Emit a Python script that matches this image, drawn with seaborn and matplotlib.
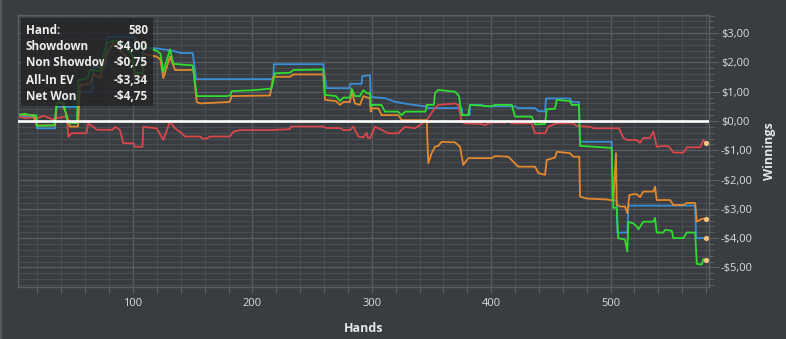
import numpy as np
import pandas as pd
import matplotlib
matplotlib.use("Agg")
import matplotlib.pyplot as plt
import seaborn as sns
from matplotlib.ticker import MultipleLocator, FuncFormatter
from matplotlib.patches import Rectangle
from matplotlib.lines import Line2D

# ---------------- data ----------------
showdown_hands = [4, 19, 19.5, 34.7, 36, 54, 54.5, 66, 66.5, 77.5, 78, 101.5, 102, 115, 125, 133, 140, 150,
                  153, 217.5, 218, 259.4, 262, 281.7, 282, 291.5, 292, 298.5, 299.1, 311, 319, 330, 346, 347.3,
                  375.3, 376, 382, 382.2, 392, 394.8, 420, 422.7, 436.7, 439.5, 445.1, 445.9, 466, 467.4, 473.5,
                  474.4, 500.9, 501.5, 505.1, 505.6, 514, 514.9, 570.8, 571.6, 580]
showdown_vals = [0.15, 0.15, -0.25, -0.25, 0.48, 0.48, 1.0, 1.0, 1.85, 1.85, 2.87, 2.87, 2.5, 2.5, 2.45, 2.4, 2.32, 2.32,
                 1.43, 1.43, 1.94, 1.94, 1.12, 1.12, 1.27, 1.27, 1.53, 1.57, 0.82, 0.78, 0.66, 0.58, 0.49, 0.44,
                 0.44, 0.2, 0.2, 0.55, 0.55, 0.5, 0.5, 0.44, 0.44, 0.34, 0.32, 0.77, 0.77, 0.65, 0.65,
                 -0.71, -0.71, -2.71, -2.71, -3.81, -3.81, -2.89, -2.89, -4.0, -4.0]

netwon_hands = [4, 10, 14, 19, 19.5, 34, 36, 38, 42, 44.5, 46, 53, 54.2, 62, 64, 72, 78, 85, 92, 100, 101.7, 108,
                108.6, 120, 123, 125.4, 131, 133.8, 150, 153.5, 178, 181.5, 182.6, 200, 214, 216.2, 218.9, 231.5,
                234.3, 259.4, 260.8, 270, 273.4, 276.2, 281.7, 283.2, 285.9, 290, 292.9, 296, 298.5, 299.1, 300,
                308, 311, 322, 325, 327.8, 345, 346, 352, 352.9, 355.7, 369.7, 373, 375.3, 380.8, 382.2, 400,
                403.2, 417.2, 419.9, 433.9, 436.7, 445.1, 446.5, 453.4, 454.9, 466, 467.4, 473.5, 474.4, 500.9,
                502.3, 505.1, 506.4, 512, 514, 514.9, 519, 522, 523.2, 527.4, 535.8, 537.2, 538.6, 544.2, 545.6,
                551.2, 552.6, 561, 563.8, 570.8, 572.2, 576.4, 577.8, 580]
netwon_vals = [0.2, 0.25, 0.18, 0.2, -0.17, -0.15, 0.55, 0.66, 0.62, 0.1, -0.07, -0.07, 1.4, 1.45, 1.75, 1.7, 2.66,
               2.76, 2.62, 2.2, 1.64, 1.64, 2.53, 2.4, 2.3, 1.68, 2.45, 1.95, 1.9, 0.85, 0.85, 0.87, 1.02, 1.05,
               1.1, 1.12, 1.63, 1.65, 1.74, 1.76, 0.89, 0.85, 0.68, 0.8, 0.8, 1.1, 0.85, 0.85, 1.05, 0.95, 0.95,
               0.5, 0.55, 0.55, 0.32, 0.32, 0.2, 0.32, 0.32, 0.55, 0.55, 0.95, 1.06, 1.0, 0.85, 0.2, 0.2, 0.55,
               0.5, 0.55, 0.55, 0.15, 0.15, -0.12, -0.1, 0.4, 0.42, 0.72, 0.68, 0.55, 0.55, -0.85, -0.92, -2.97,
               -2.95, -4.0, -4.05, -4.46, -3.44, -3.5, -3.6, -3.7, -3.44, -3.44, -3.31, -3.81, -3.81, -3.72,
               -3.75, -4.0, -4.0, -3.81, -3.81, -4.88, -4.9, -4.71, -4.75]

nonsd_hands = [4, 10, 16.5, 19, 25, 33, 36, 40, 44.5, 45.8, 48.6, 61, 62.6, 66.8, 69.6, 83, 84.9, 89, 91.9, 100.3,
               101.7, 108, 108.6, 119.8, 125.4, 131, 135.2, 140.8, 143.6, 156, 158.9, 161.7, 164.5, 181, 184,
               189.6, 214, 231.5, 232, 259.4, 262, 273.4, 276.2, 281.7, 284.6, 288.7, 292.9, 295.7, 296.5, 298.5,
               302.7, 305.5, 308.3, 313.8, 322.2, 325, 327.8, 336.2, 340.4, 346, 352.9, 355.7, 369.7, 372.5,
               375.3, 378, 392, 394.8, 400.3, 411.6, 414.4, 417.2, 433.9, 436.7, 445.1, 447.8, 454.9, 468.8,
               471.6, 482.7, 486, 507, 510.6, 513.5, 521.9, 524.6, 527.4, 533, 535.8, 538.6, 545.6, 549, 551.2,
               552.6, 561, 563.8, 575, 577.8, 580]
nonsd_vals = [0.14, 0.1, 0.12, 0.08, 0.18, 0.05, 0.1, 0.12, 0.17, -0.54, -0.42, -0.42, -0.08, -0.2, -0.3, -0.3,
              -0.2, -0.3, -0.76, -0.76, -0.88, -0.88, -0.2, -0.25, -0.65, -0.02, -0.25, -0.42, -0.53, -0.53,
              -0.61, -0.6, -0.53, -0.53, -0.37, -0.31, -0.31, -0.28, -0.19, -0.19, -0.24, -0.24, -0.31, -0.31,
              -0.19, -0.53, -0.56, -0.4, -0.56, -0.59, -0.19, -0.25, -0.3, -0.42, -0.42, -0.3, -0.2, -0.25,
              -0.14, 0.03, 0.44, 0.55, 0.6, 0.55, -0.02, -0.08, -0.1, -0.14, -0.05, -0.05, 0.0, -0.08, -0.08,
              -0.42, -0.42, -0.19, -0.08, -0.08, -0.17, -0.2, -0.25, -0.25, -0.58, -0.65, -0.65, -0.75, -0.58,
              -0.58, -0.36, -0.88, -0.85, -0.88, -1.0, -1.08, -1.08, -0.9, -0.9, -0.65, -0.75]

allin_hands = [4, 16.5, 19.3, 34.7, 36.1, 40.3, 44.5, 47.2, 54, 55.6, 64, 66.8, 72.4, 78, 83.4, 91.9, 100.3, 101.7,
               108, 108.6, 119.8, 123, 125.4, 131, 135.2, 150.6, 153.4, 156.1, 181, 182.6, 214.7, 217.5, 231.5,
               234.3, 259.4, 260.8, 270, 273.4, 276.2, 281.7, 283.2, 285.9, 290.1, 292.9, 298.5, 299.1, 300,
               305.5, 308.3, 322.2, 325, 346, 347.3, 350.1, 352.9, 355.7, 358.5, 369.7, 373.9, 376.6, 380.8,
               400.3, 403.2, 414.4, 419.9, 422.7, 436.7, 439.5, 445.1, 446.5, 453.4, 454.9, 466, 468.8, 473.8,
               474.4, 480, 496.7, 502.3, 503, 504.5, 505.1, 507.9, 512.1, 514, 515.7, 519, 521.9, 524.6, 527.4,
               535.8, 537.2, 538.6, 549.8, 552.6, 561, 563.8, 570.8, 572.2, 576.4, 580]
allin_vals = [0.22, 0.2, -0.15, -0.15, 0.6, 0.62, 0.2, -0.19, -0.19, 1.23, 1.27, 1.6, 1.46, 2.3, 2.66, 2.3, 1.97,
              1.5, 1.5, 2.3, 2.2, 2.1, 1.46, 2.2, 1.74, 1.74, 0.65, 0.6, 0.65, 0.85, 0.87, 1.51, 1.51, 1.59,
              1.59, 0.72, 0.68, 0.55, 0.65, 0.65, 1.0, 0.6, 0.55, 0.85, 0.77, 0.32, 0.43, 0.43, 0.2, 0.2, 0.03,
              0.03, -1.44, -1.1, -0.88, -0.85, -0.71, -0.73, -0.88, -1.5, -1.27, -1.27, -1.2, -1.22, -1.45,
              -1.56, -1.56, -1.78, -1.84, -1.33, -1.25, -1.05, -1.1, -1.22, -1.22, -2.58, -2.65, -2.68, -2.72,
              -2.2, -1.1, -2.85, -2.92, -2.92, -3.15, -2.53, -2.5, -2.5, -2.6, -2.41, -2.41, -2.24, -2.7, -2.7,
              -2.87, -2.87, -2.8, -2.8, -3.44, -3.34, -3.34]

legend_labels = ["Showdown", "Non Showdown", "All-In EV", "Net Won"]
legend_values = ["-$4,00", "-$0,75", "-$3,34", "-$4,75"]
current_hand = "580"

# ---------------- style ----------------
sns.set_theme(style="dark")
plt.rcParams['font.family'] = ['Open Sans', 'DejaVu Sans']

BG = '#393c40'
W, H = 786, 339
fig = plt.figure(figsize=(W / 100, H / 100), dpi=100, facecolor=BG)
ax = fig.add_axes([18 / W, 1 - 287 / H, (709 - 18) / W, (287 - 15) / H])
ax.set_facecolor(BG)

series = [
    (showdown_hands, showdown_vals, '#3b8fd8'),
    (nonsd_hands, nonsd_vals, '#d8474b'),
    (allin_hands, allin_vals, '#e2892e'),
    (netwon_hands, netwon_vals, '#2fdc2f'),
]
for hands, vals, col in series:
    df = pd.DataFrame({"hand": hands, "value": vals})
    sns.lineplot(data=df, x="hand", y="value", ax=ax, color=col, linewidth=1.3,
                 sort=False, estimator=None, zorder=2)

ax.axhline(0, color='white', lw=1.9, zorder=3)

ends = pd.DataFrame({"hand": [h[-1] for h, _, _ in series], "value": [v[-1] for _, v, _ in series]})
sns.scatterplot(data=ends, x="hand", y="value", ax=ax, color='#f5c47f', s=14, linewidth=0,
                zorder=4, clip_on=False)

ax.set_xlim(3.7, 582.4)
ax.set_ylim(-5.67, 3.62)

ax.xaxis.set_major_locator(MultipleLocator(100))
ax.xaxis.set_minor_locator(MultipleLocator(20))
ax.yaxis.set_major_locator(MultipleLocator(1))
ax.yaxis.set_minor_locator(MultipleLocator(0.2))

def money(v, pos=None):
    s = f"${abs(v):.2f}".replace('.', ',')
    return ('-' if v < -1e-9 else '') + s

ax.yaxis.set_major_formatter(FuncFormatter(money))
ax.yaxis.tick_right()
ax.yaxis.set_label_position('right')

ax.grid(True, which='major', color='#5a5d61', lw=0.9, zorder=0)
ax.grid(True, which='minor', color='#4a4d51', lw=0.8, zorder=0)
ax.set_axisbelow(True)

TICK = '#5c5f63'
LBL = '#dcdcdc'
ax.tick_params(axis='x', which='both', bottom=True, length=4, width=0.8, color=TICK,
               labelsize=8, labelcolor=LBL, pad=4)
ax.tick_params(axis='y', which='major', right=True, left=False, length=7, width=0.8, color=TICK,
               labelsize=8, labelcolor=LBL, pad=1.5)
ax.tick_params(axis='y', which='minor', right=True, left=False, length=3.5, width=0.8, color=TICK)

for sp in ax.spines.values():
    sp.set_color('#5a5d61')
    sp.set_linewidth(1.0)

ax.set_xlabel("Hands", fontsize=9, fontweight='bold', color='#e6e6e6', labelpad=9)
ax.set_ylabel("Winnings", fontsize=9, fontweight='bold', color='#e6e6e6', labelpad=7)

# window border on the left
fig.add_artist(Line2D([1 / W, 1 / W], [0, 1], transform=fig.transFigure, color='#55585c', lw=1.5))

# ---------------- hover box ----------------
box = Rectangle((21 / W, 1 - 106 / H), (153 - 21) / W, (106 - 18) / H, transform=fig.transFigure,
                facecolor='#222325', alpha=0.8, edgecolor='none', zorder=5)
fig.add_artist(box)

TXT = '#ececec'
rows_y = [30, 47, 63, 80, 97]
fig.text(26 / W, 1 - rows_y[0] / H, "Hand:", fontsize=8.5, fontweight='bold', color=TXT,
         va='center', ha='left', zorder=6)
fig.text(148 / W, 1 - rows_y[0] / H, current_hand, fontsize=8.5, fontweight='bold', color=TXT,
         va='center', ha='right', zorder=6)
clip = Rectangle((21 / W, 1 - 106 / H), (104 - 21) / W, (106 - 18) / H, transform=fig.transFigure)
for lab, val, yy in zip(legend_labels, legend_values, rows_y[1:]):
    t = fig.text(26 / W, 1 - yy / H, lab, fontsize=8.5, fontweight='bold', color=TXT,
                 va='center', ha='left', zorder=6)
    t.set_clip_path(clip)
    t.set_clip_on(True)
    fig.text(148 / W, 1 - yy / H, val, fontsize=8.5, fontweight='bold', color=TXT,
             va='center', ha='right', zorder=6)

fig.savefig("out.png", dpi=100, facecolor=BG)
